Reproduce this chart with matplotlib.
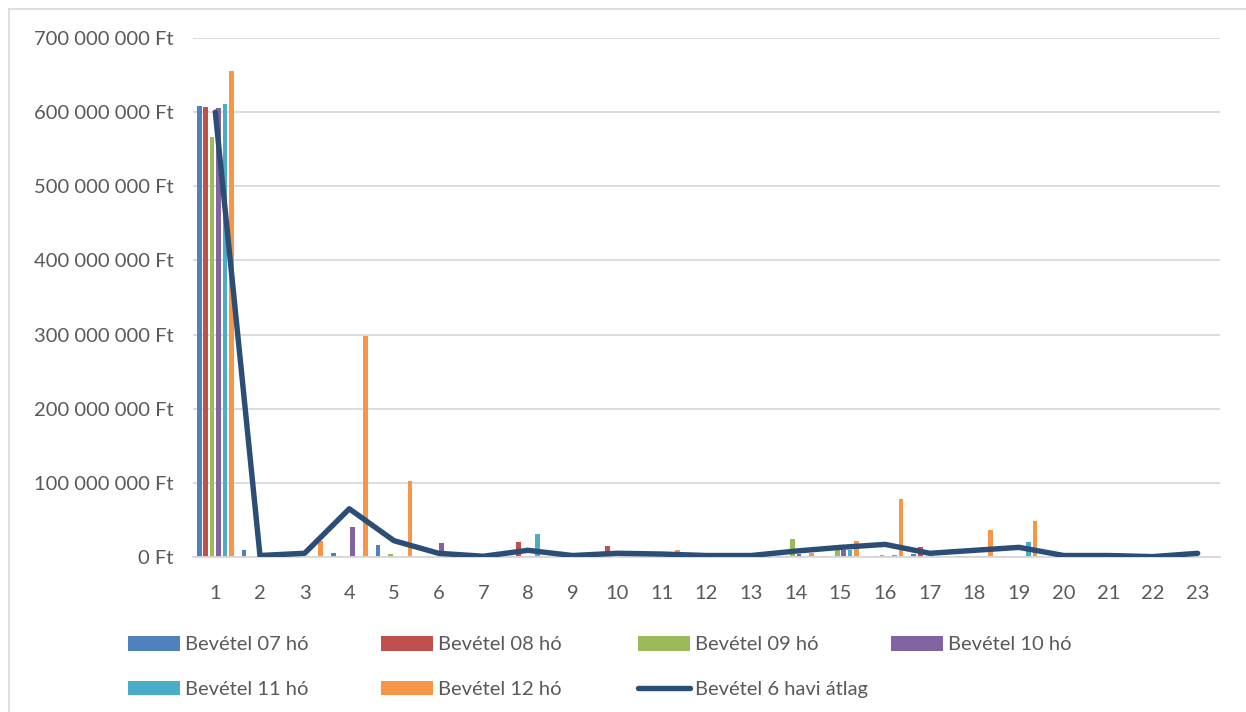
import matplotlib
matplotlib.use("Agg")
import matplotlib.pyplot as plt
import numpy as np
from matplotlib.lines import Line2D
from matplotlib.ticker import FuncFormatter

plt.rcParams['font.family'] = ['Lato', 'DejaVu Sans']

categories = list(range(1, 24))
rev_07 = [608, 9, 0.5, 5, 16, 0.5, 0, 1, 0, 0, 0, 0, 0, 1, 1, 2, 4, 1, 2, 0, 0, 0, 0]
rev_08 = [607, 0.5, 0.5, 1, 0.5, 1, 0, 20, 0, 15, 0, 0, 0, 1, 0.5, 1, 14, 2, 0.5, 0, 0, 0, 0]
rev_09 = [567, 1, 0.5, 0.5, 4, 0.5, 0, 0.5, 0, 0, 0, 0, 0, 24, 16, 3, 0.5, 2, 0.5, 0, 0, 0, 0]
rev_10 = [605, 0.3, 1, 40, 0.5, 19, 0, 1, 0, 0.5, 0, 0, 0, 4, 10, 1, 1, 1, 0.5, 0, 0, 0, 0]
rev_11 = [611, 0.3, 2, 0.5, 0.3, 0.3, 0, 31, 0, 0.3, 0, 0, 0, 0.5, 10, 3, 0.5, 1, 20, 0, 0, 0, 0]
rev_12 = [655, 0.3, 22, 298, 103, 0.5, 0.3, 1, 0.3, 0.3, 9, 0.3, 0.3, 5, 22, 78, 0.5, 36, 49, 0, 0, 0, 0]
rev_avg = [600, 2, 5, 65, 22, 5, 1, 9, 2, 5, 4, 2, 2, 8, 13, 17, 5, 9, 13, 2, 2, 0.5, 5]

series = [
    ("Bevétel 07 hó", rev_07, "#4f81bd"),
    ("Bevétel 08 hó", rev_08, "#c0504d"),
    ("Bevétel 09 hó", rev_09, "#9bbb59"),
    ("Bevétel 10 hó", rev_10, "#8064a2"),
    ("Bevétel 11 hó", rev_11, "#4bacc6"),
    ("Bevétel 12 hó", rev_12, "#f79646"),
]
avg_name = "Bevétel 6 havi átlag"
text_col = "#595959"
fs = 14.5

W, H = 1246, 712
fig = plt.figure(figsize=(W / 100, H / 100), dpi=100)
ax = fig.add_axes([193 / W, 1 - 557 / H, 1027 / W, 519 / H])

x = np.array(categories, dtype=float)
pitch = 0.143
handles = {}
for i, (name, vals, col) in enumerate(series):
    offs = (i - 2.5) * pitch
    handles[name] = ax.bar(x + offs, np.array(vals) * 1e6, width=0.105, color=col,
                           zorder=2, label=name)
line, = ax.plot(x, np.array(rev_avg) * 1e6, color="#2c4d75", lw=3.9,
                solid_capstyle="round", solid_joinstyle="round", zorder=3,
                label=avg_name)
handles[avg_name] = line

ax.set_xlim(0.5, 23.5)
ax.set_ylim(0, 700e6)
ax.set_yticks(np.arange(0, 700e6 + 1, 100e6))
ax.yaxis.set_major_formatter(FuncFormatter(lambda v, p: f"{int(v):,} Ft".replace(",", " ")))
ax.set_xticks(categories)
ax.grid(axis="y", color="#d9d9d9", lw=1.3, zorder=0)
for s in ["top", "right", "left"]:
    ax.spines[s].set_visible(False)
ax.spines["bottom"].set_color("#d9d9d9")
ax.spines["bottom"].set_linewidth(1.3)
ax.tick_params(axis="both", length=0, labelsize=fs, labelcolor=text_col)
ax.tick_params(axis="y", pad=14)
ax.tick_params(axis="x", pad=20)

# legend: four equally spaced columns, two rows
columns = [
    ["Bevétel 07 hó", "Bevétel 11 hó"],
    ["Bevétel 08 hó", "Bevétel 12 hó"],
    ["Bevétel 09 hó", avg_name],
    ["Bevétel 10 hó"],
]
col_x = [128, 381, 638, 891]
for cx, names in zip(col_x, columns):
    leg = fig.legend([handles[n] for n in names], names, loc="upper left",
                     bbox_to_anchor=(cx / W, 1 - 636 / H), frameon=False,
                     fontsize=fs, handlelength=2.6, handleheight=0.75,
                     handletextpad=0.25, labelspacing=1.35, borderpad=0,
                     borderaxespad=0)
    for t in leg.get_texts():
        t.set_color(text_col)

# chart area border (top and left edges)
fig.add_artist(Line2D([9 / W, 1], [1 - 9 / H, 1 - 9 / H], transform=fig.transFigure,
                      color="#d9d9d9", lw=1.2))
fig.add_artist(Line2D([9 / W, 9 / W], [0, 1 - 9 / H], transform=fig.transFigure,
                      color="#d9d9d9", lw=1.2))

fig.savefig("out.png", dpi=100)
